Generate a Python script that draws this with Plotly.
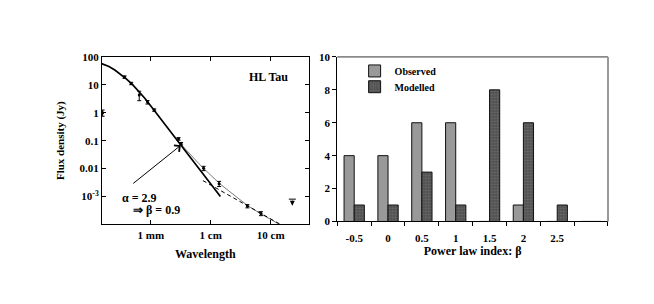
import math
import plotly.graph_objects as go

# ---------------- data: left panel (HL Tau SED) ----------------
obs_wl_mm = [0.157, 0.365, 0.471, 0.641, 0.88, 1.14, 2.9, 3.2, 7.6, 13.8, 40.9, 69.0]
obs_flux_jy = [1.0, 18.9, 11.2, 4.3, 2.4, 1.25, 0.116, 0.078, 0.0102, 0.00286, 4.5e-4, 2.45e-4]
obs_err_jy = [0.25, 1.9, 1.1, 1.6, 0.35, 0.12, 0.012, 0.008, 0.0018, 0.0006, 0.00006, 0.00004]

limit_wl_mm = [230.0]
limit_flux_jy = [8.0e-4]
limit_tip_jy = [4.6e-4]

thick_wl_mm = [0.151, 0.2, 0.251, 0.316, 0.398, 0.501, 0.631, 0.794, 1.0, 1.26, 1.58,
               2.0, 2.51, 3.16, 3.98, 5.01, 6.31, 7.94, 10.0, 14.5]
thick_flux_jy = [57.5, 45.7, 33.9, 24.0, 15.8, 10.0, 6.0, 3.3, 1.74, 0.91, 0.49,
                 0.263, 0.138, 0.076, 0.040, 0.0204, 0.0105, 0.0054, 0.0028, 0.001]

thin_wl_mm = [3.16, 3.98, 5.01, 6.31, 7.59, 10.0, 13.8, 20.0, 31.6, 40.7, 69.2, 100.0, 135.0]
thin_flux_jy = [0.076, 0.0437, 0.0251, 0.0151, 0.0102, 0.0056, 0.0030, 0.00158,
                7.4e-4, 4.8e-4, 2.34e-4, 1.51e-4, 1.05e-4]

dash_wl_mm = [7.4, 150.0]
dash_flux_jy = [3.7e-3, 9.6e-5]

wl_tick_vals = [1, 10, 100]
wl_tick_text = ["1 mm", "1 cm", "10 cm"]
flux_tick_vals = [1e-3, 0.01, 0.1, 1, 10, 100]
flux_tick_text = ["10<sup>-3</sup>", "0.01", "0.1", "1", "10", "100"]

arrow_from = (0.48, 2.65e-3)   # (mm, Jy) tail of the pointer arrow
arrow_to = (3.16, 0.068)       # (mm, Jy) head of the pointer arrow

# ---------------- data: right panel (histogram of beta) ----------------
beta_labels = ["-0.5", "0", "0.5", "1", "1.5", "2", "2.5", " "]
observed_counts = [4, 4, 6, 6, 0, 1, 0, 0]
modelled_counts = [1, 1, 3, 1, 8, 6, 1, 0]

FONT = "Liberation Serif"

fig = go.Figure()

# ---- left panel traces ----
fig.add_trace(go.Scatter(x=thin_wl_mm, y=thin_flux_jy, mode="lines",
                         line=dict(color="#7a7a7a", width=1), showlegend=False,
                         xaxis="x", yaxis="y"))
fig.add_trace(go.Scatter(x=dash_wl_mm, y=dash_flux_jy, mode="lines",
                         line=dict(color="black", width=1, dash="4px,3px"), showlegend=False,
                         xaxis="x", yaxis="y"))
fig.add_trace(go.Scatter(x=thick_wl_mm, y=thick_flux_jy, mode="lines",
                         line=dict(color="black", width=1.7), showlegend=False,
                         xaxis="x", yaxis="y"))
fig.add_trace(go.Scatter(x=obs_wl_mm, y=obs_flux_jy, mode="markers",
                         marker=dict(color="black", size=3, symbol="circle"),
                         error_y=dict(type="data", array=obs_err_jy, color="black",
                                      thickness=1, width=2),
                         showlegend=False, xaxis="x", yaxis="y", cliponaxis=False))
fig.add_trace(go.Scatter(x=limit_wl_mm, y=limit_flux_jy, mode="markers",
                         marker=dict(color="black", size=5, symbol="line-ew-open",
                                     line=dict(width=1, color="black")),
                         showlegend=False, xaxis="x", yaxis="y"))

# ---- right panel traces ----
fig.add_trace(go.Bar(x=beta_labels, y=observed_counts, name="<b>Observed</b>",
                     marker=dict(color="#999999", line=dict(color="#111111", width=1)),
                     xaxis="x2", yaxis="y2", legend="legend"))
fig.add_trace(go.Bar(x=beta_labels, y=modelled_counts, name="<b>Modelled</b>",
                     marker=dict(color="#4f4f4f", line=dict(color="#111111", width=1),
                                 pattern=dict(shape=".", fgcolor="#8a8a8a", size=3, solidity=0.35)),
                     xaxis="x2", yaxis="y2", legend="legend2"))

annotations = [
    dict(x=math.log10(arrow_to[0]), y=math.log10(arrow_to[1]),
         ax=math.log10(arrow_from[0]), ay=math.log10(arrow_from[1]),
         xref="x", yref="y", axref="x", ayref="y", showarrow=True,
         arrowhead=4, arrowsize=1.6, arrowwidth=1, arrowcolor="black", text=""),
    dict(x=math.log10(limit_wl_mm[0]), y=math.log10(limit_tip_jy[0]),
         ax=math.log10(limit_wl_mm[0]), ay=math.log10(limit_flux_jy[0]),
         xref="x", yref="y", axref="x", ayref="y", showarrow=True,
         arrowhead=2, arrowsize=1, arrowwidth=1, arrowcolor="black", text=""),
    dict(x=0.171, y=0.370, xref="paper", yref="paper", xanchor="left", yanchor="middle",
         text="<b>α = 2.9</b>", showarrow=False, font=dict(family=FONT, size=12, color="black")),
    dict(x=0.188, y=0.329, xref="paper", yref="paper", xanchor="left", yanchor="middle",
         text="<b>⇒ β = 0.9</b>", showarrow=False, font=dict(family=FONT, size=12, color="black")),
    dict(x=0.366, y=0.784, xref="paper", yref="paper", xanchor="left", yanchor="middle",
         text="<b>HL Tau</b>", showarrow=False, font=dict(family=FONT, size=12, color="black")),
]

shapes = [
    dict(type="line", xref="x2 domain", yref="y2 domain", x0=0, x1=1, y0=1, y1=1,
         line=dict(color="#333333", width=1)),
    dict(type="line", xref="x2 domain", yref="y2 domain", x0=1, x1=1, y0=0, y1=1,
         line=dict(color="#999999", width=2)),
]

tickfont = dict(family=FONT, size=11, color="black")
legend_common = dict(xanchor="left", yanchor="middle",
                     font=dict(family=FONT, size=10, color="black"),
                     bgcolor="rgba(0,0,0,0)", itemwidth=30)

fig.update_layout(
    width=654, height=304,
    margin=dict(l=0, r=0, t=0, b=0),
    paper_bgcolor="white", plot_bgcolor="white",
    font=dict(family=FONT, color="black"),
    barmode="group", bargap=0.4, bargroupgap=0,
    showlegend=True,
    legend=dict(x=0.530, y=0.805, **legend_common),
    legend2=dict(x=0.530, y=0.751, **legend_common),
    xaxis=dict(type="log", domain=[0.1437, 0.4598], range=[-0.815, 2.635],
               tickvals=wl_tick_vals, ticktext=[f"<b>{t}</b>" for t in wl_tick_text],
               ticks="inside", ticklen=4, tickcolor="black", showline=True,
               linecolor="black", linewidth=1, mirror="ticks", showgrid=False,
               zeroline=False, tickfont=tickfont, anchor="y", ticklabelstandoff=0,
               title=dict(text="<b>Wavelength</b>", font=dict(family=FONT, size=12), standoff=10)),
    yaxis=dict(type="log", domain=[0.2796, 0.853], range=[-4, 2],
               tickvals=flux_tick_vals, ticktext=[f"<b>{t}</b>" for t in flux_tick_text],
               ticks="inside", ticklen=4, tickcolor="black", showline=True,
               linecolor="black", linewidth=1, mirror="ticks", showgrid=False,
               zeroline=False, tickfont=tickfont, anchor="x",
               title=dict(text="<b>Flux density (Jy)</b>", font=dict(family=FONT, size=11), standoff=12)),
    xaxis2=dict(domain=[0.5035, 0.9174], type="category",
                categoryorder="array", categoryarray=beta_labels,
                tickson="boundaries", ticks="outside", ticklen=4, tickcolor="black",
                showline=True, linecolor="black", linewidth=1, showgrid=False,
                zeroline=False, tickfont=tickfont, anchor="y2", ticklabelstandoff=6,
                tickvals=beta_labels, ticktext=[f"<b>{t}</b>" for t in beta_labels],
                title=dict(text="<b>Power law index: β</b>", font=dict(family=FONT, size=12), standoff=3)),
    yaxis2=dict(domain=[0.2895, 0.853], range=[0, 10], dtick=2, tick0=0,
                ticks="outside", ticklen=4, tickcolor="black", showline=True,
                linecolor="black", linewidth=1, showgrid=False, zeroline=False,
                tickfont=tickfont, anchor="x2", tickprefix="<b>", ticksuffix="</b>"),
    annotations=annotations,
    shapes=shapes,
)

fig.write_html("out.html")
